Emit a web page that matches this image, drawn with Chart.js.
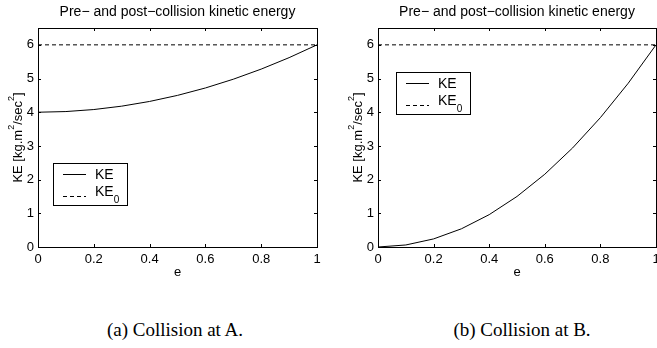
<!DOCTYPE html>
<html>
<head>
<meta charset="utf-8">
<script src="https://cdn.jsdelivr.net/npm/chart.js@4"></script>
<style>
  body { margin: 0; background: #fff; width: 657px; height: 348px; position: relative; overflow: hidden; }
  canvas { position: absolute; top: 0; }
  .caption { position: absolute; top: 320px; line-height: 20px; font-family: "Liberation Serif", "Times New Roman", serif; font-size: 19px; color: #000; transform: translateX(-50%); white-space: nowrap; }
</style>
</head>
<body>
<canvas id="chartA" width="330" height="290" style="left:0"></canvas>
<canvas id="chartB" width="327" height="290" style="left:330px"></canvas>
<div class="caption" style="left:175px">(a) Collision at A.</div>
<div class="caption" style="left:522px">(b) Collision at B.</div>
<script>
// valores
const eValues = [0, 0.1, 0.2, 0.3, 0.4, 0.5, 0.6, 0.7, 0.8, 0.9, 1];
const keA = [4.00, 4.02, 4.08, 4.18, 4.32, 4.50, 4.72, 4.98, 5.28, 5.62, 6.00];
const keB = [0.00, 0.06, 0.24, 0.54, 0.96, 1.50, 2.16, 2.94, 3.84, 4.86, 6.00];
const ke0 = 6;
const xTicks = [0, 0.2, 0.4, 0.6, 0.8, 1];
const yTicks = [0, 1, 2, 3, 4, 5, 6];
const titleText = 'Pre\u2212 and post\u2212collision kinetic energy';

const sans = '"Liberation Sans", Arial, sans-serif';

// desenha moldura, ticks internos, título, rótulos e legenda (estilo MATLAB)
const matlabPlugin = {
  id: 'matlab',
  afterDraw(chart, args, opts) {
    const { ctx, chartArea: a, scales } = chart;
    const xs = scales.x, ys = scales.y;
    ctx.save();
    ctx.strokeStyle = '#000';
    ctx.lineWidth = 1;
    ctx.setLineDash([]);
    ctx.strokeRect(Math.round(a.left) + 0.5, Math.round(a.top) + 0.5,
      Math.round(a.right - a.left), Math.round(a.bottom - a.top));
    const tl = 3;
    ctx.beginPath();
    xTicks.forEach(v => {
      const px = Math.round(xs.getPixelForValue(v)) + 0.5;
      ctx.moveTo(px, a.bottom); ctx.lineTo(px, a.bottom - tl);
      ctx.moveTo(px, a.top); ctx.lineTo(px, a.top + tl);
    });
    yTicks.forEach(v => {
      const py = Math.round(ys.getPixelForValue(v)) + 0.5;
      ctx.moveTo(a.left, py); ctx.lineTo(a.left + tl, py);
      ctx.moveTo(a.right, py); ctx.lineTo(a.right - tl, py);
    });
    ctx.stroke();

    // título
    ctx.fillStyle = '#000';
    ctx.font = '14px ' + sans;
    ctx.textAlign = 'center';
    ctx.textBaseline = 'middle';
    const cx = (a.left + a.right) / 2;
    ctx.fillText(titleText, cx, 12);

    // rótulo x
    ctx.font = '13px ' + sans;
    ctx.fillText('e', cx, 272);

    // rótulo y com sobrescritos
    ctx.save();
    ctx.translate(a.left - 20, (a.top + a.bottom) / 2);
    ctx.rotate(-Math.PI / 2);
    const parts = [['KE [kg.m', 0], ['2', 1], ['/sec', 0], ['2', 1], [']', 0]];
    let total = 0;
    parts.forEach(p => {
      ctx.font = (p[1] ? '9px ' : '13px ') + sans;
      total += ctx.measureText(p[0]).width;
    });
    let x = -total / 2;
    ctx.textAlign = 'left';
    parts.forEach(p => {
      ctx.font = (p[1] ? '9px ' : '13px ') + sans;
      ctx.fillText(p[0], x, p[1] ? -6 : 0);
      x += ctx.measureText(p[0]).width;
    });
    ctx.restore();

    // legenda
    const lx = Math.round(a.left + opts.legendX), ly = Math.round(a.top + opts.legendY);
    const lw = 74, lh = 42;
    ctx.fillStyle = '#fff';
    ctx.fillRect(lx, ly, lw, lh);
    ctx.lineWidth = 1;
    ctx.strokeRect(lx + 0.5, ly + 0.5, lw, lh);
    ctx.beginPath();
    ctx.moveTo(lx + 10, ly + 11.5); ctx.lineTo(lx + 33, ly + 11.5);
    ctx.stroke();
    ctx.setLineDash([4, 3]);
    ctx.beginPath();
    ctx.moveTo(lx + 10, ly + 33.5); ctx.lineTo(lx + 33, ly + 33.5);
    ctx.stroke();
    ctx.setLineDash([]);
    ctx.fillStyle = '#000';
    ctx.textAlign = 'left';
    ctx.font = '14px ' + sans;
    ctx.fillText('KE', lx + 42, ly + 12);
    ctx.fillText('KE', lx + 42, ly + 29);
    const w = ctx.measureText('KE').width;
    ctx.font = '10px ' + sans;
    ctx.fillText('0', lx + 42 + w, ly + 37);
    ctx.restore();
  }
};

function makeChart(id, values, pad, legendPos) {
  return new Chart(document.getElementById(id), {
    type: 'line',
    data: {
      datasets: [{
        label: 'KE',
        data: eValues.map((e, i) => ({ x: e, y: values[i] })),
        borderColor: '#000',
        borderWidth: 1,
        pointRadius: 0,
        tension: 0
      }, {
        label: 'KE0',
        data: [{ x: 0, y: ke0 }, { x: 1, y: ke0 }],
        borderColor: '#000',
        borderWidth: 1,
        borderDash: [4, 3],
        pointRadius: 0
      }]
    },
    options: {
      responsive: false,
      animation: false,
      layout: { padding: pad },
      plugins: {
        legend: { display: false },
        tooltip: { enabled: false },
        matlab: legendPos
      },
      scales: {
        x: {
          type: 'linear',
          min: 0, max: 1,
          grid: { display: false, drawTicks: false },
          border: { display: false },
          ticks: {
            stepSize: 0.2, padding: 5, color: '#000', maxRotation: 0,
            font: { family: sans, size: 13 },
            callback: v => String(+v.toFixed(2))
          },
          afterFit(s) { s.height = 43; s.paddingLeft = 0; s.paddingRight = 0; }
        },
        y: {
          min: 0, max: 6.5,
          grid: { display: false, drawTicks: false },
          border: { display: false },
          ticks: { stepSize: 1, includeBounds: false, padding: 4, color: '#000', font: { family: sans, size: 13 } },
          afterFit(s) { s.width = 38; s.paddingTop = 0; s.paddingBottom = 0; }
        }
      }
    },
    plugins: [matlabPlugin]
  });
}

makeChart('chartA', keA, { left: 0, top: 28, right: 13, bottom: 0 }, { legendX: 15, legendY: 135 });
makeChart('chartB', keB, { left: 10, top: 28, right: 1, bottom: 0 }, { legendX: 18, legendY: 44 });
</script>
</body>
</html>
